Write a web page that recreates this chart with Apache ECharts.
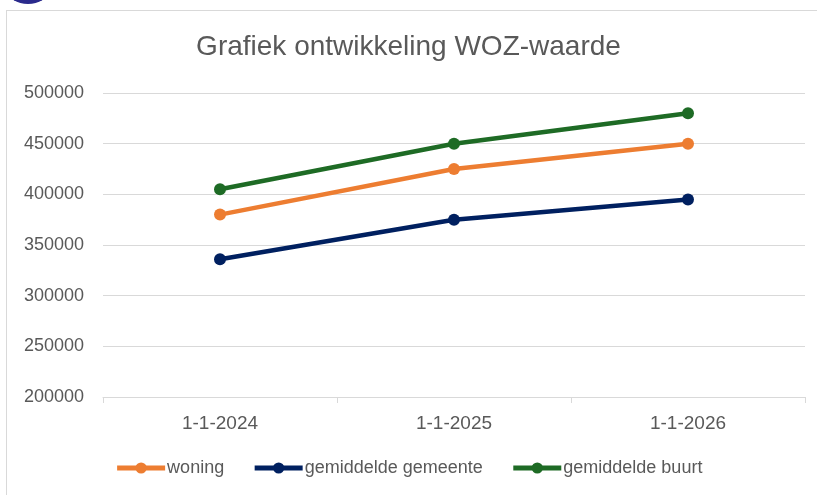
<!DOCTYPE html>
<html>
<head>
<meta charset="utf-8">
<script src="https://cdn.jsdelivr.net/npm/echarts@6/dist/echarts.min.js"></script>
<style>
  html, body { margin: 0; padding: 0; background: #fff; }
  #frame { position: absolute; left: 6px; top: 10px; width: 830px; height: 500px; border: 1px solid #d9d9d9; box-sizing: border-box; }
  #logo { position: absolute; left: 8px; top: -22px; width: 40px; height: 26px; border-radius: 50%; background: #2a2a8c; }
  #chart { position: absolute; left: 0; top: 0; width: 817px; height: 495px; }
</style>
</head>
<body>
<div id="logo"></div>
<div id="frame"></div>
<div id="chart"></div>
<script>
// data
const categories = ["1-1-2024", "1-1-2025", "1-1-2026"];
const woning = [380000, 425000, 450000];
const gemeente = [336000, 375000, 395000];
const buurt = [405000, 450000, 480000];

const font = "'Liberation Sans', sans-serif";
const textColor = "#595959";

const chart = echarts.init(document.getElementById("chart"));

const makeSeries = (name, data, color) => ({
  name: name,
  type: "line",
  data: data,
  symbol: "circle",
  symbolSize: 12,
  lineStyle: { width: 4.5, color: color },
  itemStyle: { color: color },
  animation: false
});

chart.setOption({
  backgroundColor: "transparent",
  textStyle: { fontFamily: font },
  title: {
    text: "Grafiek ontwikkeling WOZ-waarde",
    left: "center",
    top: 28,
    textStyle: { fontFamily: font, fontSize: 28, fontWeight: "normal", color: textColor }
  },
  grid: { left: 103, right: 12, top: 93, bottom: 98 },
  legend: {
    bottom: 13,
    left: "center",
    itemWidth: 48,
    itemHeight: 14,
    itemGap: 28,
    lineStyle: { width: 5 },
    textStyle: { fontFamily: font, fontSize: 18, color: textColor, padding: [0, 0, 0, -3] },
    data: ["woning", "gemiddelde gemeente", "gemiddelde buurt"]
  },
  xAxis: {
    type: "category",
    data: categories,
    axisLine: { lineStyle: { color: "#d9d9d9", width: 1 } },
    axisTick: { show: true, length: 6, lineStyle: { color: "#d9d9d9" } },
    axisLabel: { fontFamily: font, fontSize: 19, color: textColor, margin: 17 }
  },
  yAxis: {
    type: "value",
    min: 200000,
    max: 500000,
    interval: 50000,
    axisLine: { show: false },
    axisTick: { show: false },
    splitLine: { lineStyle: { color: "#d9d9d9", width: 1 } },
    axisLabel: {
      fontFamily: font,
      fontSize: 18,
      color: textColor,
      margin: 19,
      formatter: (v) => String(v)
    }
  },
  series: [
    makeSeries("woning", woning, "#ED7D31"),
    makeSeries("gemiddelde gemeente", gemeente, "#002060"),
    makeSeries("gemiddelde buurt", buurt, "#1E6B25")
  ]
});
</script>
</body>
</html>
